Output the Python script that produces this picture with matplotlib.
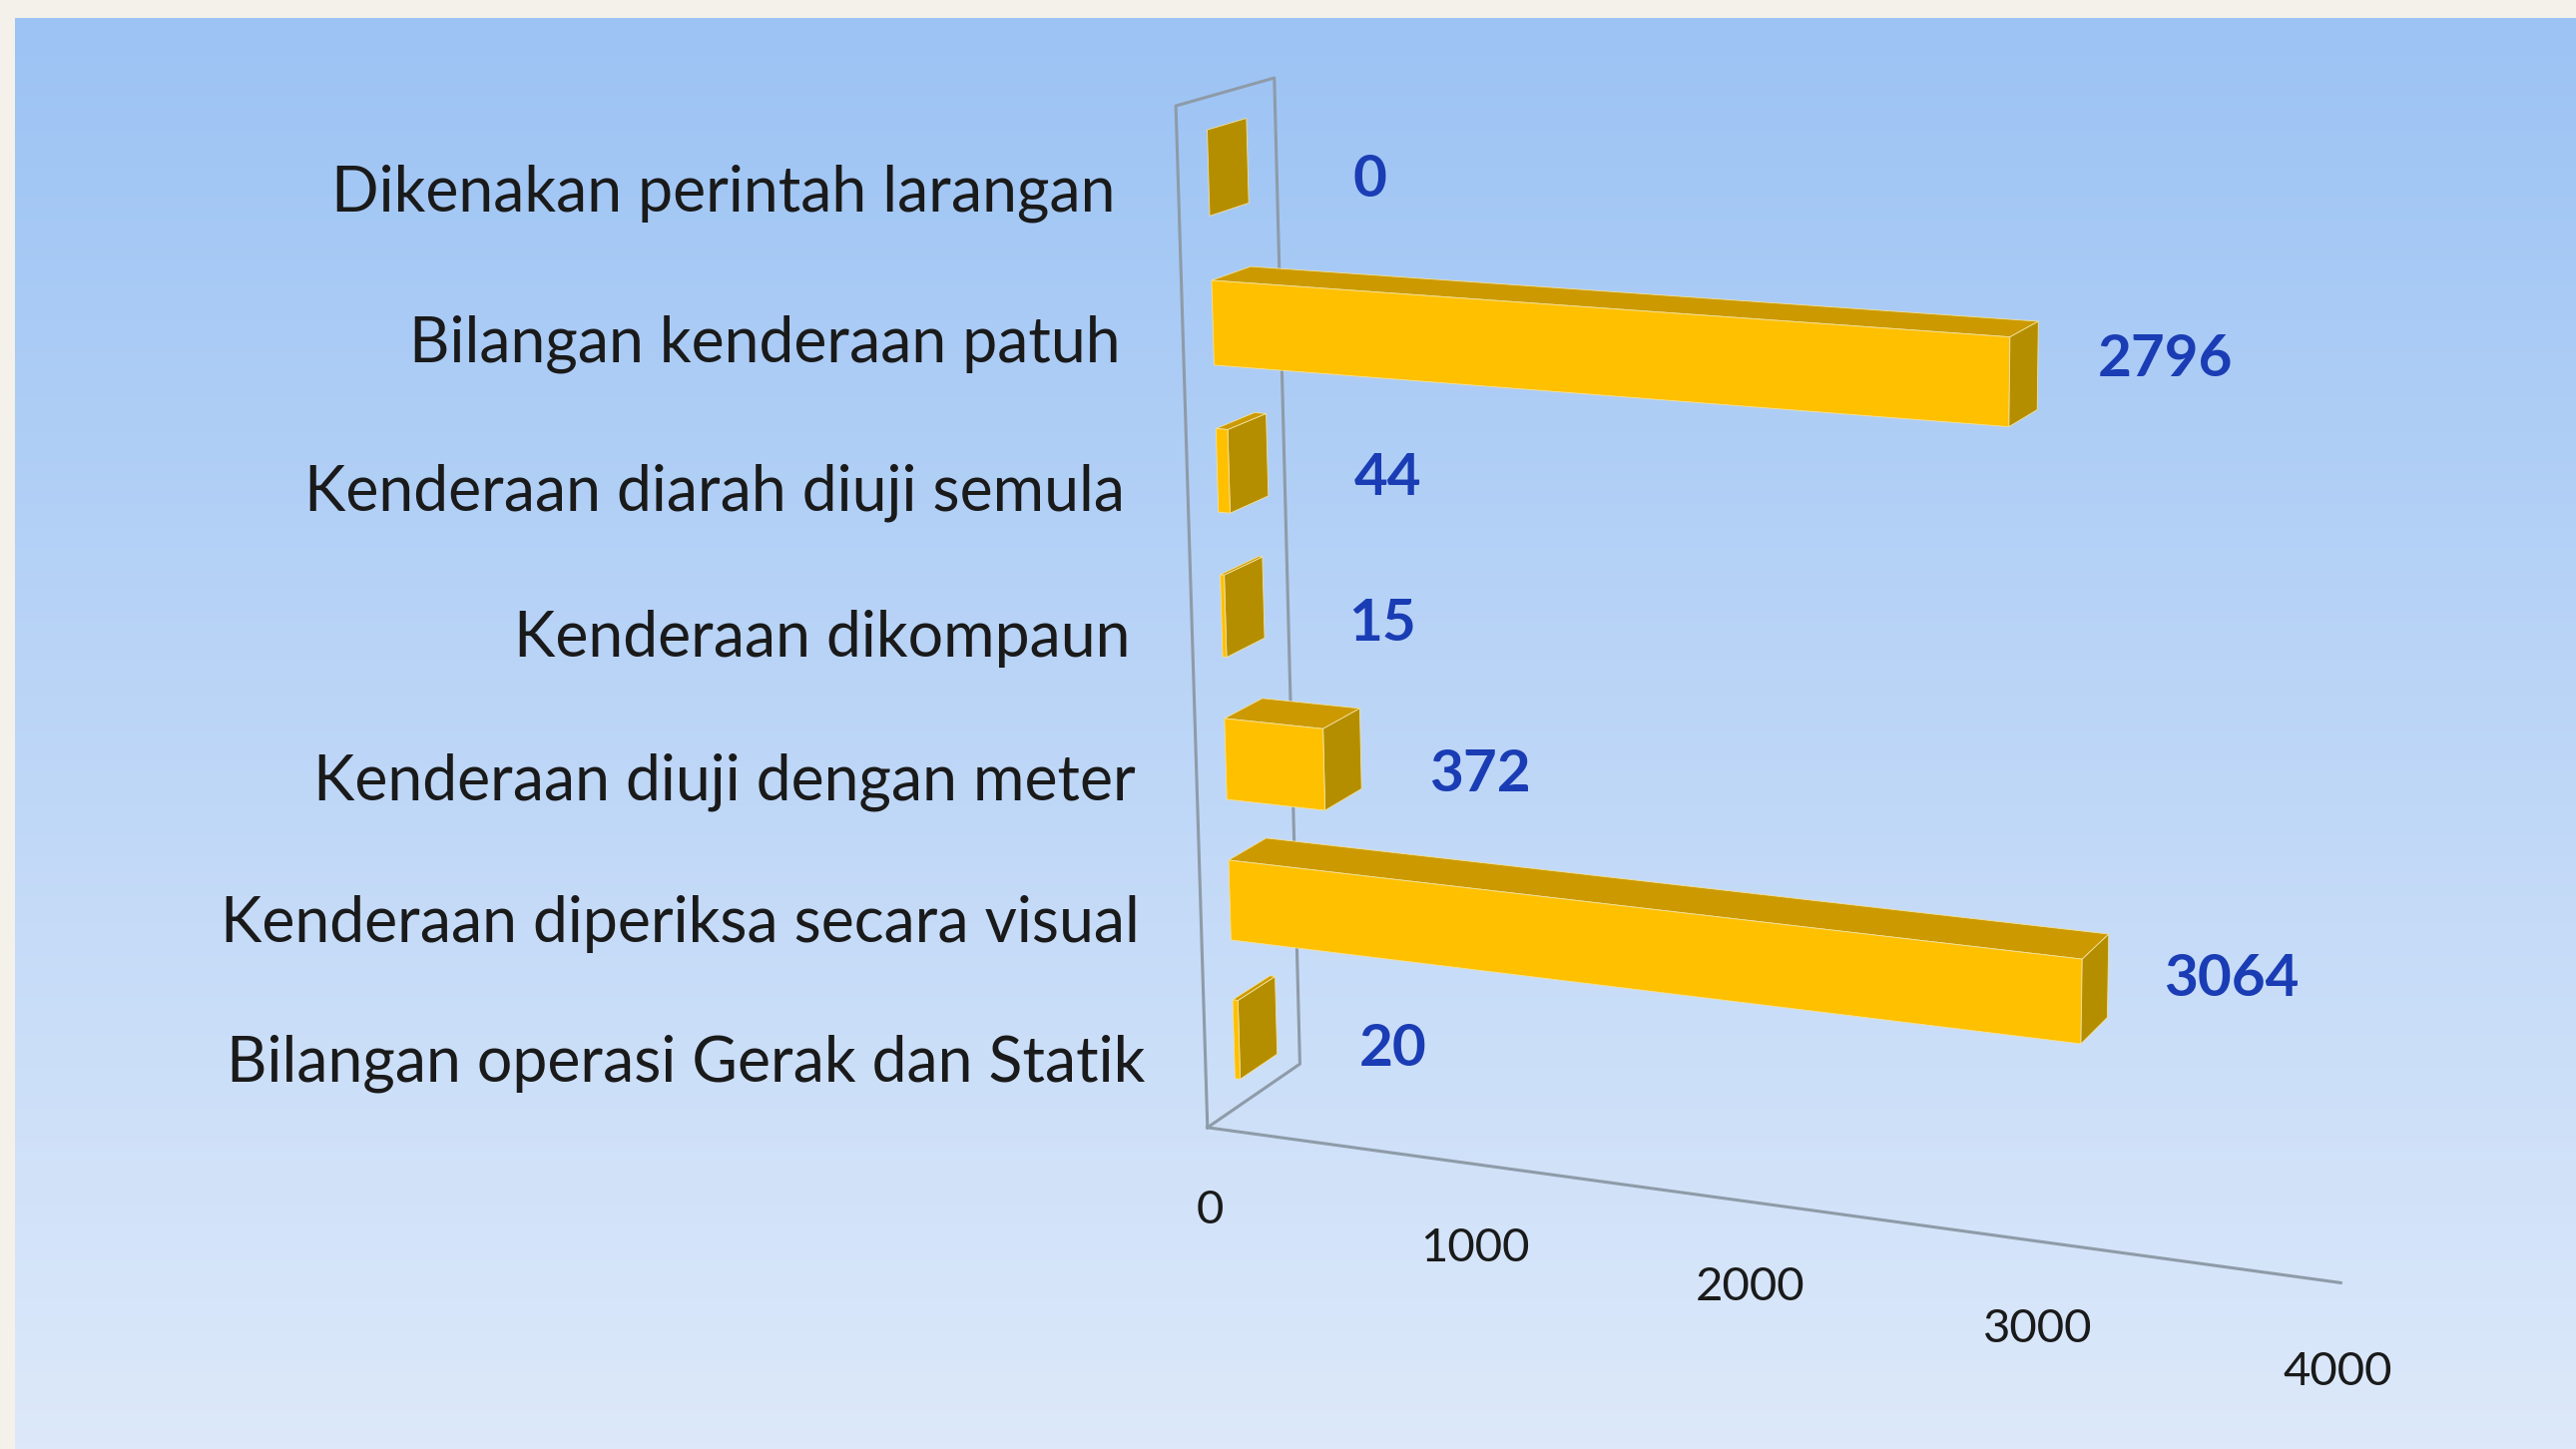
import numpy as np
import matplotlib
matplotlib.use("Agg")
import matplotlib.pyplot as plt
from matplotlib.colors import LinearSegmentedColormap
from mpl_toolkits.mplot3d.art3d import Poly3DCollection

# ---- data (listed bottom -> top, as drawn) ----
categories = [
    "Bilangan operasi Gerak dan Statik",
    "Kenderaan diperiksa secara visual",
    "Kenderaan diuji dengan meter",
    "Kenderaan dikompaun",
    "Kenderaan diarah diuji semula",
    "Bilangan kenderaan patuh",
    "Dikenakan perintah larangan",
]
values = [20, 3064, 372, 15, 44, 2796, 0]
tick_values = [0, 1000, 2000, 3000, 4000]

W, H = 2581, 1452
fig = plt.figure(figsize=(W / 100, H / 100), dpi=100)
fig.patch.set_facecolor("#F4F1EA")

# gradient panel behind the chart
bg = fig.add_axes([15 / W, 0, 1 - 15 / W, 1 - 18 / H])
grad = np.linspace(0, 1, 256).reshape(-1, 1)
cmap = LinearSegmentedColormap.from_list("bg", ["#9CC3F4", "#DDE9FA"])
bg.imshow(grad, aspect="auto", cmap=cmap, extent=[0, 1, 0, 1], origin="upper")
bg.set_axis_off()

# 3D axes (perspective) for the bars
ax = fig.add_axes([0.3631, -0.0437, 0.6451, 1.1467], projection="3d",
                  computed_zorder=False)
ax.set_proj_type("persp", focal_length=0.554)
ax.view_init(elev=14.5, azim=-69)
ax.set_box_aspect((750, 133, 660), zoom=0.961)
n = len(categories)
ax.set_xlim(0, tick_values[-1])
ax.set_ylim(0, 1)
ax.set_zlim(0, n)
ax.set_axis_off()
ax.patch.set_alpha(0)

# side wall + value axis line
line_kw = dict(color="#8E9BA8", lw=2.2, zorder=1)
ax.plot([0, 0, 0, 0, 0], [0, 0, 1, 1, 0], [0, n, n, 0, 0], **line_kw)
ax.plot([0, tick_values[-1]], [0, 0], [0, 0], **line_kw)

# bars
y0, y1 = 0.3, 0.7
half = 0.285
faces, colors = [], []
for i, v in enumerate(values):
    z0, z1 = i + 0.5 - half, i + 0.5 + half
    if v > 0:
        faces.append([(0, y0, z0), (v, y0, z0), (v, y0, z1), (0, y0, z1)])
        colors.append("#FFC000")
        faces.append([(0, y0, z1), (v, y0, z1), (v, y1, z1), (0, y1, z1)])
        colors.append("#CC9A00")
    faces.append([(v, y0, z0), (v, y1, z0), (v, y1, z1), (v, y0, z1)])
    colors.append("#B58E00")
bars = Poly3DCollection(faces, facecolors=colors, edgecolors="#F2E2A0",
                        linewidths=0.6, zorder=2)
ax.add_collection3d(bars)

# labels
font = ["Lato", "Liberation Sans", "DejaVu Sans"]
for i, (c, v) in enumerate(zip(categories, values)):
    ax.text(-235, 0, i + 0.40, c, ha="right", va="center", fontsize=45,
            family=font, color="#1A1A1A", zorder=3)
    ax.text(v + 520 - 0.02 * v, 0.5, i + 0.47 + 6.5e-5 * v, str(v),
            ha="center", va="center", fontsize=42, fontweight="bold",
            family=font, color="#1A3CB4", zorder=3)
for t in tick_values:
    ax.text(t, 0, -0.6, str(t), ha="center", va="center", fontsize=34,
            family=font, color="#1A1A1A", zorder=3)

fig.savefig("out.png", dpi=100, facecolor=fig.get_facecolor())
